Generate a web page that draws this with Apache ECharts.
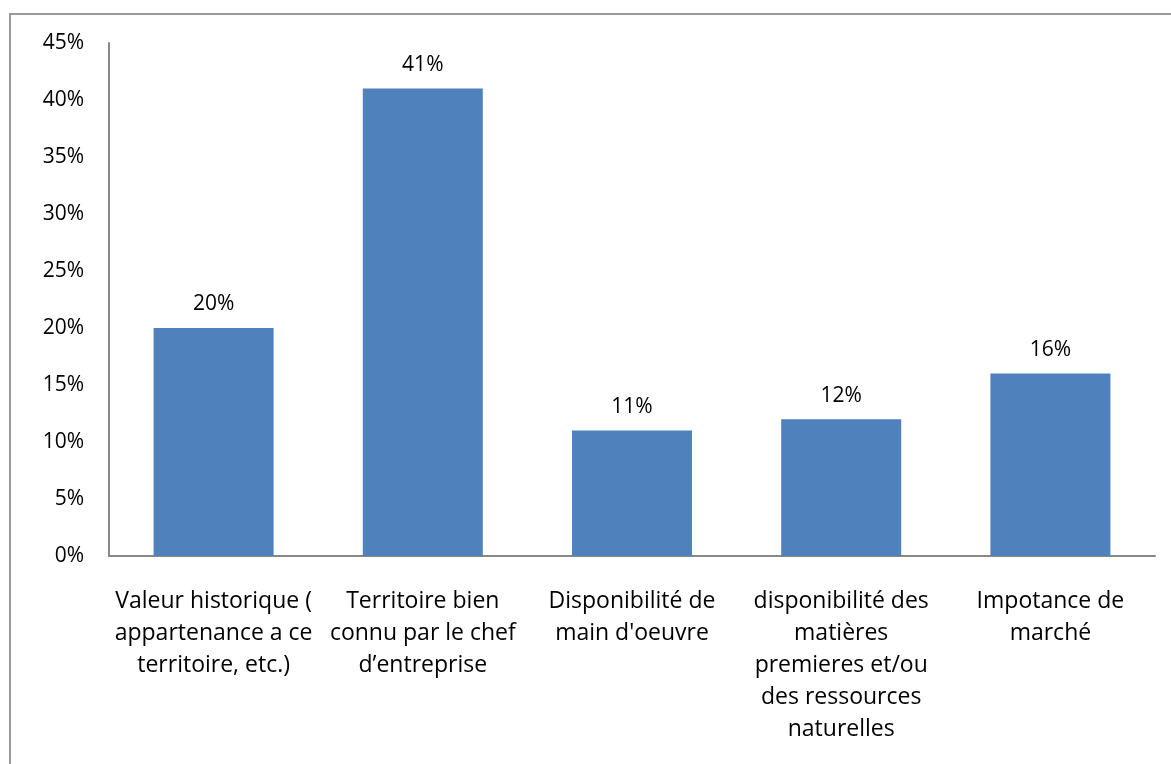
<!DOCTYPE html>
<html>
<head>
<meta charset="utf-8">
<script src="https://cdn.jsdelivr.net/npm/echarts@6/dist/echarts.min.js"></script>
<style>
html,body{margin:0;padding:0;background:#fff;}
#chart{width:1171px;height:764px;}
</style>
</head>
<body>
<div id="chart"></div>
<script>
const categories = [
  "Valeur historique (\nappartenance a ce\nterritoire, etc.)",
  "Territoire bien\nconnu par le chef\nd’entreprise",
  "Disponibilité de\nmain d'oeuvre",
  "disponibilité des\nmatières\npremieres et/ou\ndes ressources\nnaturelles",
  "Impotance de\nmarché"
];
const values = [20, 41, 11, 12, 16];
const yTicks = { min: 0, max: 45, interval: 5 };

const FONT = 'Open Sans';
const chart = echarts.init(document.getElementById('chart'), null, {renderer: 'canvas'});
chart.setOption({
  backgroundColor: '#fff',
  animation: false,
  textStyle: { fontFamily: FONT },
  graphic: [{
    type: 'rect',
    shape: { x: 10, y: 14, width: 1300, height: 900 },
    style: { fill: 'none', stroke: '#999', lineWidth: 2 },
    silent: true
  }],
  grid: { left: 109, right: 16, top: 43, bottom: 208, containLabel: false },
  xAxis: {
    type: 'category',
    data: categories,
    axisLine: { show: true, lineStyle: { color: '#888', width: 2 } },
    axisTick: { show: false },
    axisLabel: {
      interval: 0,
      color: '#000',
      fontFamily: FONT,
      fontSize: 23,
      lineHeight: 32,
      margin: 29,
      align: 'center'
    }
  },
  yAxis: {
    type: 'value',
    min: yTicks.min,
    max: yTicks.max,
    interval: yTicks.interval,
    axisLine: { show: true, lineStyle: { color: '#888', width: 2 } },
    axisTick: { show: false },
    splitLine: { show: false },
    axisLabel: {
      color: '#000',
      fontFamily: FONT,
      fontSize: 21,
      margin: 25,
      formatter: v => v + '%'
    }
  },
  series: [{
    type: 'bar',
    data: values,
    barWidth: 120,
    itemStyle: { color: '#4F81BD' },
    label: {
      show: true,
      position: 'top',
      distance: 13,
      color: '#000',
      fontFamily: FONT,
      fontSize: 21,
      formatter: p => p.value + '%'
    }
  }]
});
</script>
</body>
</html>
